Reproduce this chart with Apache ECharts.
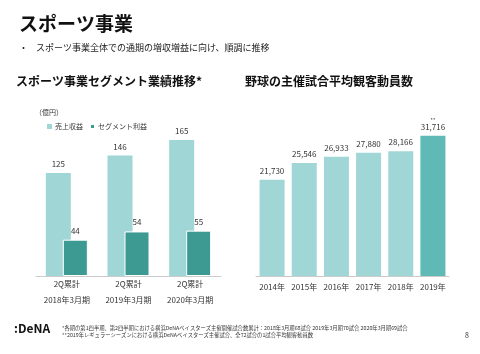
<!DOCTYPE html>
<html lang="ja">
<head>
    <meta charset="UTF-8">
    <title>スポーツ事業</title>
    <style>
        html, body { margin: 0; padding: 0; background: #fff; }
    </style>
</head>
<body>
    <div id="main" style="width: 480px;height:354px;"></div>
    <script src="https://cdn.jsdelivr.net/npm/echarts@6/dist/echarts.min.js"></script>
    <script>
    var FONT = '"Noto Sans CJK JP", "Noto Sans", sans-serif';

    // 左: セグメント業績 (億円)
    var segCategories = ['2Q累計\n2018年3月期', '2Q累計\n2019年3月期', '2Q累計\n2020年3月期'];
    var revenue = [125, 146, 165];
    var segProfit = [44, 54, 55];

    // 右: 平均観客動員数
    var years = ['2014年', '2015年', '2016年', '2017年', '2018年', '2019年'];
    var attendance = [21730, 25546, 26933, 27880, 28166, 31716];

    var footnote1 = '*各期の第1四半期、第2四半期における横浜DeNAベイスターズ主催開催試合数累計：2018年3月期68試合 2019年3月期70試合 2020年3月期69試合';
    var footnote2 = '**2019年レギュラーシーズンにおける横浜DeNAベイスターズ主催試合、全72試合の1試合平均観客動員数';

    var myChart = echarts.init(document.getElementById('main'));

    var attData = attendance.map(function (v, i) {
        if (i === attendance.length - 1) {
            return { value: v, itemStyle: { color: '#5fbab5' } };
        }
        return v;
    });

    var option = {
        backgroundColor: '#fff',
        textStyle: { fontFamily: FONT },
        title: [
            { text: 'スポーツ事業', left: 14, top: 9,
              textStyle: { fontSize: 19, fontWeight: 'bold', color: '#111', fontFamily: FONT } },
            { text: '・', left: 14, top: 38,
              textStyle: { fontSize: 9, fontWeight: 'normal', color: '#222', fontFamily: FONT } },
            { text: 'スポーツ事業全体での通期の増収増益に向け、順調に推移', left: 31, top: 38,
              textStyle: { fontSize: 9, fontWeight: 'normal', color: '#222', fontFamily: FONT } },
            { text: 'スポーツ事業セグメント業績推移*', left: 11, top: 70,
              textStyle: { fontSize: 12, fontWeight: 'bold', color: '#111', fontFamily: FONT } },
            { text: '野球の主催試合平均観客動員数', left: 240, top: 70,
              textStyle: { fontSize: 12, fontWeight: 'bold', color: '#111', fontFamily: FONT } },
            { text: '（億円）', left: 30, top: 104,
              textStyle: { fontSize: 7, fontWeight: 'normal', color: '#333', fontFamily: FONT } }
        ],
        legend: {
            left: 42, top: 118,
            itemWidth: 5, itemHeight: 5, itemGap: 6,
            icon: 'rect',
            textStyle: { fontSize: 7, color: '#333', padding: [0, 0, 0, -2] },
            data: ['売上収益', 'セグメント利益']
        },
        grid: [
            { left: 36, width: 185, top: 111, bottom: 78 },
            { left: 256, width: 193, top: 99, bottom: 78 }
        ],
        xAxis: [
            { type: 'category', gridIndex: 0, data: segCategories,
              axisLine: { lineStyle: { color: '#ccc' } }, axisTick: { show: false },
              axisLabel: { color: '#333', fontSize: 8, lineHeight: 16, margin: 0, interval: 0 } },
            { type: 'category', gridIndex: 1, data: years,
              axisLine: { lineStyle: { color: '#ccc' } }, axisTick: { show: false },
              axisLabel: { color: '#333', fontSize: 8, margin: 7, interval: 0 } }
        ],
        yAxis: [
            { type: 'value', gridIndex: 0, min: 0, max: 200, show: false },
            { type: 'value', gridIndex: 1, min: 0, max: 40000, show: false }
        ],
        series: [
            { name: '売上収益', type: 'bar', xAxisIndex: 0, yAxisIndex: 0,
              data: revenue, barWidth: 25, barGap: '-32%',
              itemStyle: { color: '#a0d6d6' },
              label: { show: true, position: 'top', fontSize: 8, color: '#333' } },
            { name: 'セグメント利益', type: 'bar', xAxisIndex: 0, yAxisIndex: 0,
              data: segProfit, barWidth: 25,
              itemStyle: { color: '#3c9a92', borderColor: '#fff', borderWidth: 1 },
              label: { show: true, position: 'top', fontSize: 8, color: '#333' } },
            { name: '観客動員数', type: 'bar', xAxisIndex: 1, yAxisIndex: 1,
              data: attData, barWidth: 25,
              itemStyle: { color: '#a0d6d6' },
              label: { show: true, position: 'top', fontSize: 8, color: '#333',
                  formatter: function (p) {
                      var s = p.value.toLocaleString('en-US');
                      return p.dataIndex === years.length - 1 ? '{s|**}\n' + s : s;
                  },
                  rich: { s: { fontSize: 5, color: '#333', lineHeight: 6 } } } }
        ],
        graphic: [
            { type: 'text', left: 14, top: 322,
              style: { text: ':DeNA', fontSize: 12, fontWeight: 'bold', fill: '#111', fontFamily: FONT } },
            { type: 'text', left: 62, top: 325,
              style: { text: footnote1, fontSize: 5.3, fill: '#333', fontFamily: FONT } },
            { type: 'text', left: 62, top: 332,
              style: { text: footnote2, fontSize: 5.3, fill: '#333', fontFamily: FONT } },
            { type: 'text', left: 465, top: 332,
              style: { text: '8', fontSize: 7, fill: '#333', fontFamily: FONT } }
        ]
    };
    myChart.setOption(option);
    </script>
</body>
</html>
